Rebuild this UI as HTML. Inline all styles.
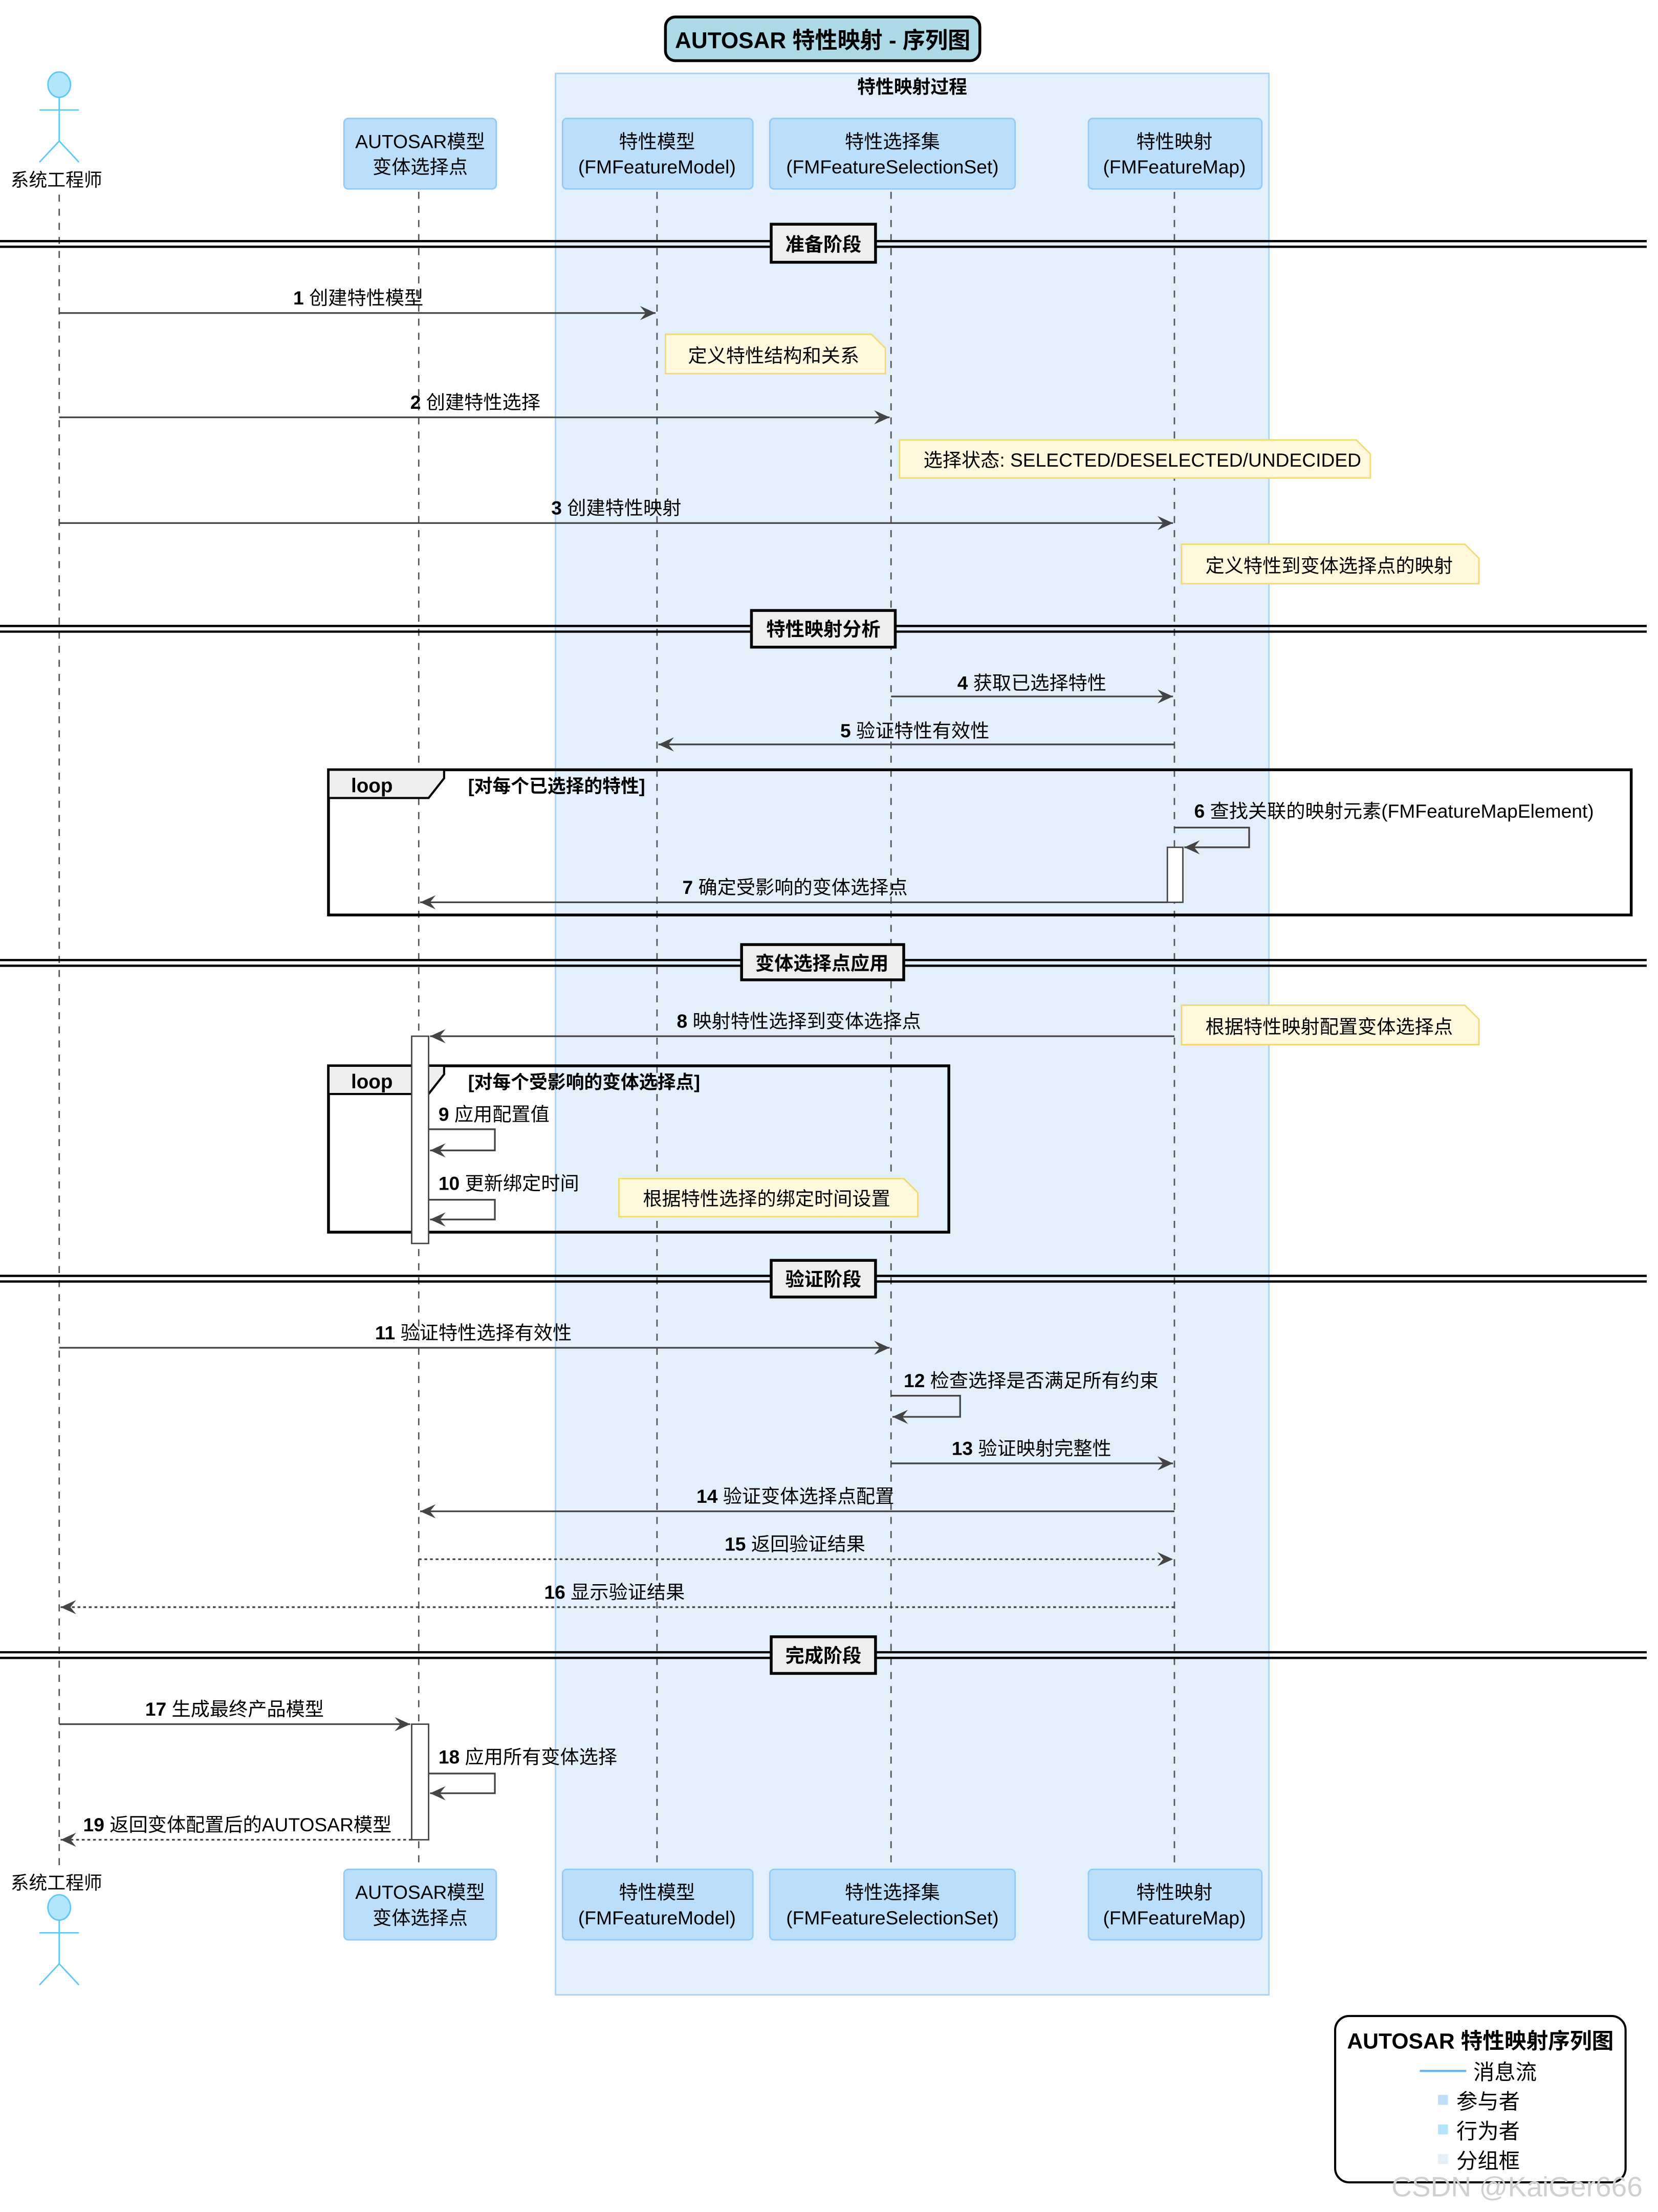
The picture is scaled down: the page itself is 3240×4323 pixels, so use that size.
<!DOCTYPE html>
<html><head><meta charset="utf-8"><style>
html,body{margin:0;padding:0;background:#fff}
svg{display:block}
text{font-family:"Liberation Sans","Noto Sans CJK SC",sans-serif;fill:#000}
.m{font-size:13.5px}
.b{font-weight:bold}
</style></head><body>
<svg width="3240" height="4323" viewBox="0 0 1176 1569" xmlns="http://www.w3.org/2000/svg">
<defs>
<marker id="a" markerWidth="12" markerHeight="10" refX="11" refY="5" orient="auto" markerUnits="userSpaceOnUse">
<path d="M0,0 L11,5 L0,10 L4,5 Z" fill="#444"/></marker>
</defs>
<rect width="1176" height="1569" fill="#fff"/>
<!-- group -->
<rect x="394" y="52" width="506" height="1363" fill="#e3f0fc" stroke="#a9d3f5" stroke-width="1"/>
<text x="647" y="66" text-anchor="middle" class="b" font-size="13">特性映射过程</text>
<!-- title -->
<rect x="472" y="12" width="223" height="31" rx="7" fill="#add8e6" stroke="#000" stroke-width="2"/>
<text x="583.5" y="34" text-anchor="middle" class="b" font-size="16">AUTOSAR 特性映射 - 序列图</text>
<!-- lifelines -->
<g stroke="#555" stroke-width="1" stroke-dasharray="5,5">
<line x1="42" y1="138" x2="42" y2="1326"/>
<line x1="297" y1="136" x2="297" y2="1326"/>
<line x1="466" y1="136" x2="466" y2="1326"/>
<line x1="632" y1="136" x2="632" y2="1326"/>
<line x1="833" y1="136" x2="833" y2="1326"/>
</g>
<!-- actors -->
<g stroke="#5bc8f5" stroke-width="1" fill="#b3e5fc">
<ellipse cx="42" cy="60" rx="8" ry="9"/>
<line x1="42" y1="69" x2="42" y2="100"/><line x1="28" y1="78" x2="56" y2="78"/>
<line x1="42" y1="100" x2="28" y2="115"/><line x1="42" y1="100" x2="56" y2="115"/>
<ellipse cx="42" cy="1353" rx="8" ry="9"/>
<line x1="42" y1="1362" x2="42" y2="1393"/><line x1="28" y1="1371" x2="56" y2="1371"/>
<line x1="42" y1="1393" x2="28" y2="1408"/><line x1="42" y1="1393" x2="56" y2="1408"/>
</g>
<text x="40" y="132" text-anchor="middle" font-size="13">系统工程师</text>
<text x="40" y="1340" text-anchor="middle" font-size="13">系统工程师</text>
<!-- participants -->
<g fill="#bbdefb" stroke="#90caf9" stroke-width="1">
<rect x="244" y="84" width="108" height="50" rx="3"/>
<rect x="399" y="84" width="135" height="50" rx="3"/>
<rect x="546" y="84" width="174" height="50" rx="3"/>
<rect x="772" y="84" width="123" height="50" rx="3"/>
<rect x="244" y="1326" width="108" height="50" rx="3"/>
<rect x="399" y="1326" width="135" height="50" rx="3"/>
<rect x="546" y="1326" width="174" height="50" rx="3"/>
<rect x="772" y="1326" width="123" height="50" rx="3"/>
</g>
<g font-size="13.5" text-anchor="middle">
<text x="298" y="105">AUTOSAR模型</text><text x="298" y="123">变体选择点</text>
<text x="466" y="105">特性模型</text><text x="466" y="123">(FMFeatureModel)</text>
<text x="633" y="105">特性选择集</text><text x="633" y="123">(FMFeatureSelectionSet)</text>
<text x="833" y="105">特性映射</text><text x="833" y="123">(FMFeatureMap)</text>
<text x="298" y="1347">AUTOSAR模型</text><text x="298" y="1365">变体选择点</text>
<text x="466" y="1347">特性模型</text><text x="466" y="1365">(FMFeatureModel)</text>
<text x="633" y="1347">特性选择集</text><text x="633" y="1365">(FMFeatureSelectionSet)</text>
<text x="833" y="1347">特性映射</text><text x="833" y="1365">(FMFeatureMap)</text>
</g>
<!-- dividers -->
<g stroke="#000" stroke-width="1.6">
<line x1="0" y1="171" x2="1168" y2="171"/><line x1="0" y1="175" x2="1168" y2="175"/>
<line x1="0" y1="444" x2="1168" y2="444"/><line x1="0" y1="448" x2="1168" y2="448"/>
<line x1="0" y1="681" x2="1168" y2="681"/><line x1="0" y1="685" x2="1168" y2="685"/>
<line x1="0" y1="905" x2="1168" y2="905"/><line x1="0" y1="909" x2="1168" y2="909"/>
<line x1="0" y1="1172" x2="1168" y2="1172"/><line x1="0" y1="1176" x2="1168" y2="1176"/>
</g>
<g fill="#eee" stroke="#000" stroke-width="2">
<rect x="547" y="159" width="74" height="27"/>
<rect x="533" y="433" width="102" height="26"/>
<rect x="526" y="670" width="115" height="25"/>
<rect x="547" y="894" width="74" height="26"/>
<rect x="547" y="1161" width="74" height="26"/>
</g>
<g class="b" font-size="13.5" text-anchor="middle">
<text x="584" y="178">准备阶段</text>
<text x="584" y="451">特性映射分析</text>
<text x="583" y="688">变体选择点应用</text>
<text x="584" y="912">验证阶段</text>
<text x="584" y="1179">完成阶段</text>
</g>
<!-- loops -->
<g fill="none" stroke="#000" stroke-width="2">
<rect x="233" y="546" width="924" height="103"/>
<rect x="233" y="756" width="440" height="118"/>
</g>
<path d="M233,546 H315 V552 L304,566 H233 Z" fill="#eee" stroke="#000" stroke-width="1.5"/>
<path d="M233,756 H315 V762 L304,776 H233 Z" fill="#eee" stroke="#000" stroke-width="1.5"/>
<text x="249" y="562" class="b" font-size="14">loop</text>
<text x="249" y="772" class="b" font-size="14">loop</text>
<text x="332" y="562" class="b" font-size="13">[对每个已选择的特性]</text>
<text x="332" y="772" class="b" font-size="13">[对每个受影响的变体选择点]</text>
<!-- notes -->
<g fill="#fff8dc" stroke="#f5d76e" stroke-width="1">
<path d="M472,237 H618 L628,247 V265 H472 Z"/>
<path d="M638,312 H962 L972,322 V339 H638 Z"/>
<path d="M838,386 H1039 L1049,396 V414 H838 Z"/>
<path d="M838,713 H1039 L1049,723 V741 H838 Z"/>
<path d="M439,836 H641 L651,846 V863 H439 Z"/>
</g>
<g class="m">
<text x="488" y="257">定义特性结构和关系</text>
<text x="655" y="331">选择状态: SELECTED/DESELECTED/UNDECIDED</text>
<text x="855" y="406">定义特性到变体选择点的映射</text>
<text x="855" y="733">根据特性映射配置变体选择点</text>
<text x="456" y="855">根据特性选择的绑定时间设置</text>
</g>
<!-- activations -->
<g fill="#fff" stroke="#444" stroke-width="1">
<rect x="828" y="601" width="11" height="39"/>
<rect x="292" y="735" width="12" height="147"/>
<rect x="292" y="1223" width="12" height="82"/>
</g>
<!-- messages -->
<g stroke="#444" stroke-width="1.2" fill="none" marker-end="url(#a)">
<line x1="42" y1="222" x2="465" y2="222"/>
<line x1="42" y1="296" x2="631" y2="296"/>
<line x1="42" y1="371" x2="832" y2="371"/>
<line x1="632" y1="494" x2="832" y2="494"/>
<line x1="833" y1="528" x2="467" y2="528"/>
<polyline points="833,587 886,587 886,601 840,601"/>
<line x1="828" y1="640" x2="298" y2="640"/>
<line x1="833" y1="735" x2="305" y2="735"/>
<polyline points="304,801 351,801 351,816 305,816"/>
<polyline points="304,851 351,851 351,865 305,865"/>
<line x1="42" y1="956" x2="631" y2="956"/>
<polyline points="632,990 681,990 681,1005 633,1005"/>
<line x1="632" y1="1038" x2="832" y2="1038"/>
<line x1="833" y1="1072" x2="298" y2="1072"/>
<line x1="297" y1="1106" x2="832" y2="1106" stroke-dasharray="2,2"/>
<line x1="833" y1="1140" x2="43" y2="1140" stroke-dasharray="2,2"/>
<line x1="42" y1="1223" x2="291" y2="1223"/>
<polyline points="304,1258 351,1258 351,1272 305,1272"/>
<line x1="292" y1="1305" x2="43" y2="1305" stroke-dasharray="2,2"/>
</g>
<g class="m">
<text x="208" y="216"><tspan class="b">1</tspan> 创建特性模型</text>
<text x="291" y="290"><tspan class="b">2</tspan> 创建特性选择</text>
<text x="391" y="365"><tspan class="b">3</tspan> 创建特性映射</text>
<text x="679" y="489"><tspan class="b">4</tspan> 获取已选择特性</text>
<text x="596" y="523"><tspan class="b">5</tspan> 验证特性有效性</text>
<text x="847" y="580"><tspan class="b">6</tspan> 查找关联的映射元素(FMFeatureMapElement)</text>
<text x="484" y="634"><tspan class="b">7</tspan> 确定受影响的变体选择点</text>
<text x="480" y="729"><tspan class="b">8</tspan> 映射特性选择到变体选择点</text>
<text x="311" y="795"><tspan class="b">9</tspan> 应用配置值</text>
<text x="311" y="844"><tspan class="b">10</tspan> 更新绑定时间</text>
<text x="266" y="950"><tspan class="b">11</tspan> 验证特性选择有效性</text>
<text x="641" y="984"><tspan class="b">12</tspan> 检查选择是否满足所有约束</text>
<text x="675" y="1032"><tspan class="b">13</tspan> 验证映射完整性</text>
<text x="494" y="1066"><tspan class="b">14</tspan> 验证变体选择点配置</text>
<text x="514" y="1100"><tspan class="b">15</tspan> 返回验证结果</text>
<text x="386" y="1134"><tspan class="b">16</tspan> 显示验证结果</text>
<text x="103" y="1217"><tspan class="b">17</tspan> 生成最终产品模型</text>
<text x="311" y="1251"><tspan class="b">18</tspan> 应用所有变体选择</text>
<text x="59" y="1299"><tspan class="b">19</tspan> 返回变体配置后的AUTOSAR模型</text>
</g>
<!-- legend -->
<rect x="947" y="1430" width="206" height="118" rx="10" fill="#fff" stroke="#000" stroke-width="1.5"/>
<text x="1050" y="1453" text-anchor="middle" class="b" font-size="15.5">AUTOSAR 特性映射序列图</text>
<line x1="1007" y1="1469" x2="1040" y2="1469" stroke="#64b5f6" stroke-width="1.5"/>
<text x="1045" y="1475" font-size="15">消息流</text>
<rect x="1020" y="1486" width="7" height="7" fill="#bbdefb"/>
<text x="1033" y="1496" font-size="15">参与者</text>
<rect x="1020" y="1507" width="7" height="7" fill="#b3e5fc"/>
<text x="1033" y="1517" font-size="15">行为者</text>
<rect x="1020" y="1528" width="7" height="7" fill="#e3f0fc"/>
<text x="1033" y="1538" font-size="15">分组框</text>
<text x="1076" y="1558" text-anchor="middle" font-size="20" fill="#ccc" style="fill:#d0d0d0">CSDN @KaiGer666</text>
</svg>
</body></html>
